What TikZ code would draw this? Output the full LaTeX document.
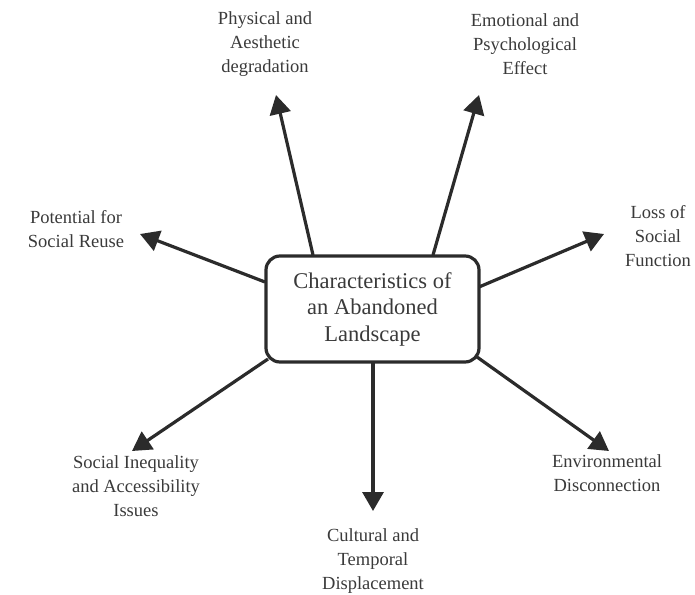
\documentclass[tikz,border=0pt]{standalone}
\usepackage{fontspec}
\setmainfont{Liberation Serif}
\usetikzlibrary{arrows.meta}
\definecolor{ink}{HTML}{2B2B2B}
\definecolor{txt}{HTML}{3A3A3A}
\tikzset{
  hub/.style={draw=ink, line width=3.2pt, rounded corners=14pt, minimum width=213pt, minimum height=106pt, align=center, text=txt, font=\fontsize{22.5}{26.5}\selectfont},
  lbl/.style={align=center, text=txt, inner sep=0pt, font=\fontsize{18.5}{24}\selectfont},
  arr/.style={draw=ink, line width=3.2pt, -{Triangle[length=19pt,width=21pt]}}
}
\begin{document}
\begin{tikzpicture}[x=1pt,y=-1pt]
\useasboundingbox (0,0) rectangle (695,594);
\node[hub] (box) at (372.5,309) {Characteristics of\\an Abandoned\\Landscape};

\node[lbl] (phys) at (265,44) {Physical and\\Aesthetic\\degradation};
\node[lbl] (emo) at (525,44) {Emotional and\\Psychological\\Effect};
\node[lbl] (pot) at (76,229) {Potential for\\Social Reuse};
\node[lbl] (loss) at (658,236) {Loss of\\Social\\Function};
\node[lbl] (ineq) at (136,486) {Social Inequality\\and Accessibility\\Issues};
\node[lbl] (cult) at (373,561) {Cultural and\\Temporal\\Displacement};
\node[lbl] (env) at (607,473) {Environmental\\Disconnection};

\coordinate (s1) at (313,255);
\coordinate (t1) at (276,95);
\coordinate (s2) at (433,255);
\coordinate (t2) at (479,95);
\coordinate (s3) at (265,282);
\coordinate (t3) at (140,234);
\coordinate (s4) at (479,287);
\coordinate (t4) at (604,234);
\coordinate (s5) at (268,359);
\coordinate (t5) at (132,451);
\coordinate (s6) at (373,362);
\coordinate (t6) at (373,511);
\coordinate (s7) at (477,357);
\coordinate (t7) at (609,451);

\draw[arr] (s1) -- (t1);
\draw[arr] (s2) -- (t2);
\draw[arr] (s3) -- (t3);
\draw[arr] (s4) -- (t4);
\draw[arr] (s5) -- (t5);
\draw[arr] (s6) -- (t6);
\draw[arr] (s7) -- (t7);
\end{tikzpicture}
\end{document}
